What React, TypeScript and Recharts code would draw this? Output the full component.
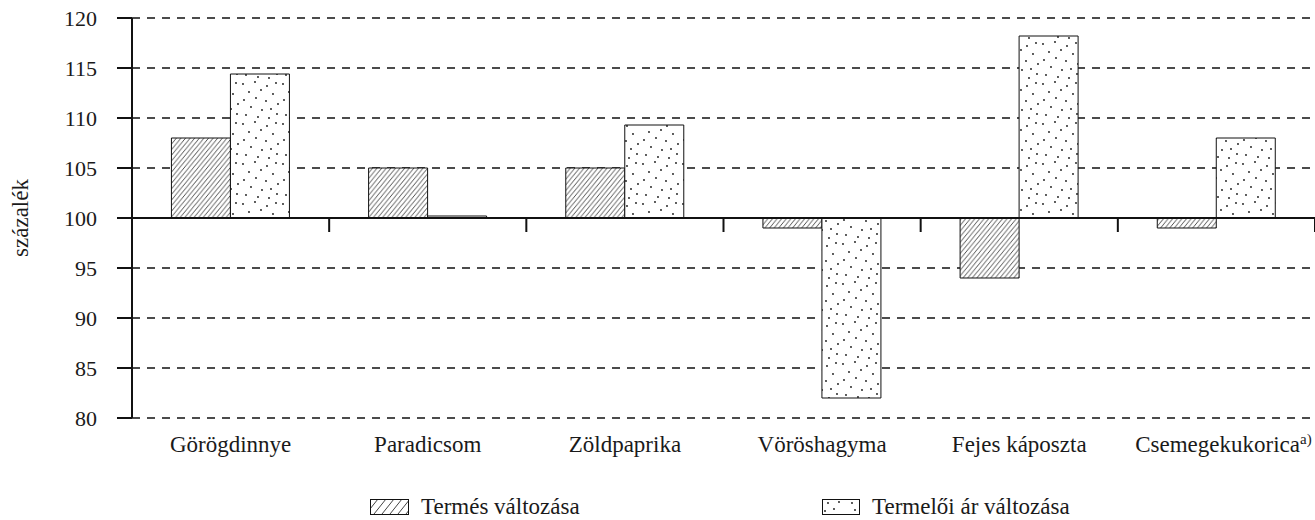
import React from 'react';
import { BarChart, Bar, XAxis, YAxis, CartesianGrid, ReferenceLine, Legend } from 'recharts';

const categories = ['Görögdinnye', 'Paradicsom', 'Zöldpaprika', 'Vöröshagyma', 'Fejes káposzta', 'Csemegekukorica'];
const footnotes = ['', '', '', '', '', 'a)'];
const termesValues = [108, 105, 105, 99, 94, 99];
const arValues = [114.4, 100.2, 109.3, 82, 118.2, 108];
const yTicks = [80, 85, 90, 95, 100, 105, 110, 115, 120];
const seriesNames = ['Termés változása', 'Termelői ár változása'];
const yLabel = 'százalék';
const BASE = 100;

const data = categories.map((name, i) => ({
  name,
  termes: [BASE, termesValues[i]],
  ar: [BASE, arValues[i]],
}));

const FONT = '"Liberation Serif", "Times New Roman", Times, serif';
const INK = '#1a1a1a';

const dots: [number, number][] = [
  [3, 4], [15, 2], [27, 6], [36, 3], [9, 12], [21, 10], [33, 14], [4, 20], [16, 18],
  [26, 21], [38, 24], [11, 27], [22, 30], [31, 29], [6, 35], [18, 37], [29, 38], [37, 34],
];

const HW = 4.6;
const HH = 5.6;

const Patterns = () => (
  <defs>
    <pattern id="hatch" patternUnits="userSpaceOnUse" width={HW} height={HH}>
      <rect width={HW} height={HH} fill="#fff" />
      <path
        d={`M0,${HH} L${HW},0 M${-HW / 4},${HH / 4} L${HW / 4},${-HH / 4} M${(HW * 3) / 4},${(HH * 5) / 4} L${(HW * 5) / 4},${(HH * 3) / 4}`}
        stroke="#111"
        strokeWidth={0.75}
      />
    </pattern>
    <pattern id="dots" patternUnits="userSpaceOnUse" width={40} height={40}>
      <rect width={40} height={40} fill="#fff" />
      {dots.map(([x, y], i) => (
        <circle key={i} cx={x} cy={y} r={0.9} fill="#111" />
      ))}
    </pattern>
  </defs>
);

const CategoryTick = (props: any) => {
  const { x, y, payload } = props;
  const idx = payload.index ?? categories.indexOf(payload.value);
  const note = footnotes[idx] || '';
  return (
    <text x={x} y={y} dy={26} dx={note ? 7 : 0} textAnchor="middle" fill={INK} fontFamily={FONT} fontSize={23}>
      <tspan>{payload.value}</tspan>
      {note ? (
        <tspan dy={-8} fontSize={15}>{note}</tspan>
      ) : null}
    </text>
  );
};

const ValueTick = (props: any) => {
  const { x, y, payload } = props;
  return (
    <text x={x} y={y} dy={8} textAnchor="end" fill={INK} fontFamily={FONT} fontSize={22}>
      {payload.value}
    </text>
  );
};

const YLabelContent = (props: any) => {
  const vb = props.viewBox || {};
  const cx = (vb.x ?? 0) + 20;
  const cy = (vb.y ?? 0) + (vb.height ?? 0) / 2;
  return (
    <text
      x={cx}
      y={cy}
      transform={`rotate(-90, ${cx}, ${cy})`}
      textAnchor="middle"
      dominantBaseline="central"
      fill={INK}
      fontFamily={FONT}
      fontSize={23}
    >
      {yLabel}
    </text>
  );
};

const legendText: React.CSSProperties = { fontFamily: FONT, fontSize: 23, color: INK };

const LegendContent = () => (
  <div style={{ position: 'relative', height: 28, ...legendText }}>
    <div style={{ position: 'absolute', left: 370, top: 0, display: 'flex', alignItems: 'center', whiteSpace: 'nowrap' }}>
      <svg width={39} height={16} style={{ marginRight: 12 }}>
        <defs>
          <pattern id="hatchL" patternUnits="userSpaceOnUse" width={8} height={10}>
            <path d="M0,10 L8,0 M-2,2.5 L2,-2.5 M6,12.5 L10,7.5" stroke="#111" strokeWidth={0.8} />
          </pattern>
        </defs>
        <rect x={0.5} y={0.5} width={38} height={15} fill="url(#hatchL)" stroke="#111" strokeWidth={1} />
      </svg>
      <span style={legendText}>{seriesNames[0]}</span>
    </div>
    <div style={{ position: 'absolute', left: 822, top: 0, display: 'flex', alignItems: 'center', whiteSpace: 'nowrap' }}>
      <svg width={38} height={16} style={{ marginRight: 12 }}>
        <rect x={0.5} y={0.5} width={37} height={15} fill="#fff" stroke="#111" strokeWidth={1} />
        <circle cx={6} cy={4} r={0.9} fill="#111" />
        <circle cx={17} cy={3} r={0.9} fill="#111" />
        <circle cx={12} cy={10} r={0.9} fill="#111" />
        <circle cx={30} cy={4} r={0.9} fill="#111" />
        <circle cx={33} cy={11} r={0.9} fill="#111" />
        <circle cx={3} cy={12} r={0.9} fill="#111" />
      </svg>
      <span style={legendText}>{seriesNames[1]}</span>
    </div>
  </div>
);

export default function App() {
  return (
    <div style={{ position: 'absolute', left: 0, top: 0, background: '#fff' }}>
      <BarChart
        width={1315}
        height={520}
        data={data}
        margin={{ top: 18, right: 0, bottom: 0, left: 0 }}
        barCategoryGap="20%"
        barGap={0}
      >
        <Patterns />
        <CartesianGrid vertical={false} strokeDasharray="8 7" stroke="#111" strokeWidth={1.3} />
        <XAxis
          dataKey="name"
          height={102}
          axisLine={false}
          tickLine={false}
          interval={0}
          tick={<CategoryTick />}
        />
        <YAxis
          type="number"
          domain={[80, 120]}
          ticks={yTicks}
          width={132}
          tickSize={15}
          tickMargin={20}
          interval={0}
          axisLine={{ stroke: '#111', strokeWidth: 2 }}
          tickLine={{ stroke: '#111', strokeWidth: 2 }}
          tick={<ValueTick />}
          label={{ content: <YLabelContent /> }}
        />
        <Bar dataKey="termes" name={seriesNames[0]} fill="url(#hatch)" stroke="#111" strokeWidth={1} isAnimationActive={false} />
        <Bar dataKey="ar" name={seriesNames[1]} fill="url(#dots)" stroke="#111" strokeWidth={1} isAnimationActive={false} />
        <ReferenceLine y={BASE} stroke="#111" strokeWidth={2} />
        {categories.map((c) => (
          <ReferenceLine
            key={c}
            position="end"
            segment={[{ x: c, y: BASE }, { x: c, y: BASE - 1.4 }]}
            stroke="#111"
            strokeWidth={2}
            ifOverflow="visible"
          />
        ))}
        <Legend
          verticalAlign="middle"
          layout="horizontal"
          wrapperStyle={{ top: 494, left: 0, width: 1315, height: 28 }}
          content={() => <LegendContent />}
        />
      </BarChart>
    </div>
  );
}
